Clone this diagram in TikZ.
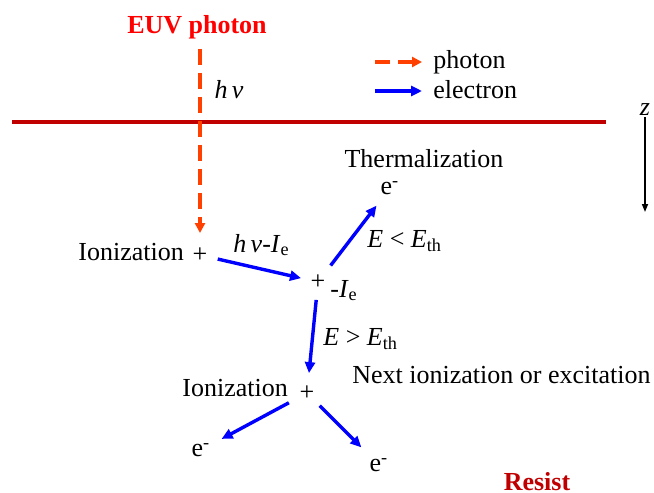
\documentclass[tikz,border=0pt]{standalone}
\usepackage{fontspec}
\setmainfont{Liberation Serif}
\usetikzlibrary{arrows.meta}
\definecolor{photonred}{RGB}{255,64,0}
\definecolor{resistred}{RGB}{192,0,0}
\definecolor{euvred}{RGB}{255,0,0}
\tikzset{
	photon/.style={photonred, line width=2pt, dash pattern=on 8pt off 4pt, -{Triangle[length=5pt,width=5pt]}},
	electron/.style={blue, line width=1.7pt, -{Triangle[length=5.5pt,width=5pt]}},
	lbl/.style={inner sep=0pt, anchor=base},
	charge/.style={inner sep=0pt},
}
\begin{document}
\fontsize{13pt}{15pt}\selectfont
\begin{tikzpicture}[x=0.5pt,y=-0.5pt]
				\useasboundingbox (0,0) rectangle (654,493);
				% resist surface
				\draw[resistred, line width=2pt] (12,122) -- (606,122);
				% labels
				\node[lbl, euvred, font=\bfseries] (euv) at (197,33) {EUV photon};
				\node[lbl] (hnu) at (229,98) {\textit{h\,ν}};
				\node[lbl, resistred, font=\bfseries] (resist) at (537,490) {Resist};
				% legend
				\coordinate (phfrom) at (375,62);
				\coordinate (elfrom) at (375,91);
				\node[lbl, anchor=base west] (legph) at (433,68) {photon};
				\node[lbl, anchor=base west] (legel) at (433,98) {electron};
				\draw[photon, dash pattern=on 7.5pt off 4pt, shorten >=5.5pt] (phfrom) -- (phfrom -| legph.west);
				\draw[electron, shorten >=5.5pt] (elfrom) -- (elfrom -| legel.west);
				% depth axis
				\node[lbl] (zlab) at (645,115) {\textit{z}};
				\coordinate (zend) at (645,212);
				\draw[line width=0.8pt, -{Triangle[length=4pt,width=3pt]}, shorten <=1pt] (zlab) -- (zend);
				% ionization events
				\node[lbl, anchor=base west] (ion1) at (78,260) {Ionization};
				\node[charge] (plus1) at (200,255) {+};
				\node[charge] (plus2) at (318,282) {+};
				\node[lbl, anchor=base west] (ie) at (330,297) {-\textit{I}\textsubscript{e}};
				\node[lbl, anchor=base west] (ion2) at (182,396) {Ionization};
				\node[charge] (plus3) at (307,393) {+};
				\node[lbl] (therm) at (424,167) {Thermalization};
				\node[lbl, anchor=base west] (next) at (352,383) {Next ionization or excitation};
				% electrons
				\node[charge] (eth) at (390,188) {e\textsuperscript{-}};
				\node[charge] (ea) at (201,450) {e\textsuperscript{-}};
				\node[charge] (eb) at (379,465) {e\textsuperscript{-}};
				% energy labels
				\node[lbl, anchor=base west] (kin) at (233,252) {\textit{h\,ν}-\textit{I}\textsubscript{e}};
				\node[lbl, anchor=base west] (low) at (367,247) {\textit{E} < \textit{E}\textsubscript{th}};
				\node[lbl, anchor=base west] (high) at (323,345) {\textit{E} > \textit{E}\textsubscript{th}};
				% tracks
				\draw[photon, shorten <=5pt, shorten >=11pt] (euv.south -| plus1.center) -- (plus1.center);
				\draw[electron, shorten <=9.1pt, shorten >=8.7pt] (plus1.center) -- (plus2.center);
				\draw[electron, shorten <=10.4pt, shorten >=11.1pt] (plus2.center) -- (eth.center);
				\draw[electron, shorten <=9pt, shorten >=10pt] (plus2.center) -- (plus3.center);
				\draw[electron, shorten <=10.3pt, shorten >=11.7pt] (plus3.center) -- (ea.center);
				\draw[electron, shorten <=9pt, shorten >=12.5pt] (plus3.center) -- (eb.center);
\end{tikzpicture}
\end{document}
